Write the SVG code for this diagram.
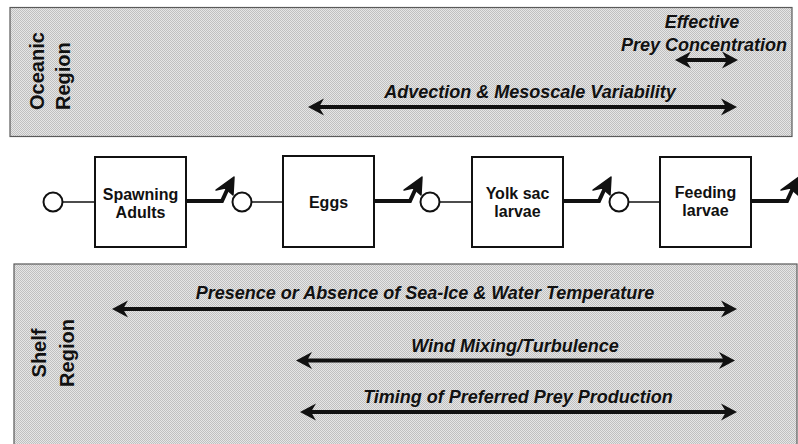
<svg xmlns="http://www.w3.org/2000/svg" width="798" height="444" viewBox="0 0 798 444">
<style>
.panel{fill:url(#dots);stroke:#5a5a5a;stroke-width:1.2}
.region{font-family:"Liberation Sans",Arial,sans-serif;font-weight:bold;font-size:20px;fill:#111}
.lbl{font-family:"Liberation Sans",Arial,sans-serif;font-weight:bold;font-style:italic;font-size:18px;fill:#111;text-anchor:middle}
.box{fill:#fff;stroke:#111;stroke-width:2}
.btxt{font-family:"Liberation Sans",Arial,sans-serif;font-weight:bold;font-size:16px;fill:#111;text-anchor:middle}
.circ{fill:#fff;stroke:#111;stroke-width:2}
.thin{stroke:#111;stroke-width:1.5;fill:none}
.thick{stroke:#111;stroke-width:4;fill:none}
.dbl{stroke:#111;stroke-width:4;fill:none;marker-start:url(#ah);marker-end:url(#ah)}
</style>
<defs>
<pattern id="dots" width="2" height="2" patternUnits="userSpaceOnUse">
<rect width="2" height="2" fill="#e6e6e6"/>
<rect width="1" height="1" fill="#c0c0c0"/>
<rect x="1" y="1" width="1" height="1" fill="#c0c0c0"/>
</pattern>
<marker id="ah" markerUnits="userSpaceOnUse" viewBox="-9 -9 19 18" refX="0" refY="0" markerWidth="19" markerHeight="18" orient="auto-start-reverse">
<path d="M8,0 L-8,-8.5 L-3,0 L-8,8.5 Z" fill="#111"/>
</marker>
<g id="sw">
<path class="thick" d="M0,0 H35 L41,-13"/>
<path d="M47,-24 L29,-11 L38,-13 L46,-6 Z" fill="#111" stroke="#111" stroke-width="1.5" stroke-linejoin="round"/>
</g>
</defs>

<g id="oceanic-panel">
<rect class="panel" x="10" y="7.5" width="782" height="129"/>
<text class="region" transform="translate(44,110) rotate(-90)">Oceanic</text>
<text class="region" transform="translate(69.5,110) rotate(-90)">Region</text>
</g>

<g id="shelf-panel">
<rect class="panel" x="14" y="264" width="783" height="185"/>
<text class="region" text-anchor="middle" transform="translate(46,353) rotate(-90)">Shelf</text>
<text class="region" text-anchor="middle" transform="translate(74,353) rotate(-90)">Region</text>
</g>

<g id="node-spawning">
<rect class="box" x="95" y="157" width="91" height="90"/>
<text class="btxt" x="140.5" y="200">Spawning</text>
<text class="btxt" x="140.5" y="218">Adults</text>
</g>
<g id="node-eggs">
<rect class="box" x="283" y="156" width="91" height="91"/>
<text class="btxt" x="328.5" y="208">Eggs</text>
</g>
<g id="node-yolk">
<rect class="box" x="472" y="157" width="91" height="90"/>
<text class="btxt" x="517.5" y="199">Yolk sac</text>
<text class="btxt" x="517.5" y="217">larvae</text>
</g>
<g id="node-feeding">
<rect class="box" x="660" y="157" width="91" height="90"/>
<text class="btxt" x="705.5" y="198">Feeding</text>
<text class="btxt" x="705.5" y="216">larvae</text>
</g>

<g id="connectors">
<line class="thin" x1="62.5" y1="202" x2="95" y2="202"/>
<line class="thin" x1="251.5" y1="202" x2="283" y2="202"/>
<line class="thin" x1="439.5" y1="202" x2="472" y2="202"/>
<line class="thin" x1="628.5" y1="202" x2="660" y2="202"/>
<circle class="circ" cx="53" cy="202" r="9.5"/>
<circle class="circ" cx="242" cy="202" r="9.5"/>
<circle class="circ" cx="430" cy="202" r="9.5"/>
<circle class="circ" cx="619" cy="202" r="9.5"/>
<use href="#sw" x="187" y="201"/>
<use href="#sw" x="375" y="201"/>
<use href="#sw" x="564" y="201"/>
<use href="#sw" x="752" y="201"/>

<line class="dbl" x1="683" y1="60" x2="730" y2="60"/>
<line class="dbl" x1="316" y1="107" x2="729" y2="107"/>
<line class="dbl" x1="120" y1="309" x2="729" y2="309"/>
<line class="dbl" x1="304" y1="360.5" x2="727" y2="360.5"/>
<line class="dbl" x1="308" y1="412" x2="729" y2="412"/>
</g>

<g id="labels">
<text class="lbl" x="702" y="28">Effective</text>
<text class="lbl" x="704" y="51">Prey Concentration</text>
<text class="lbl" x="530" y="98">Advection &amp; Mesoscale Variability</text>
<text class="lbl" x="425" y="299">Presence or Absence of Sea-Ice &amp; Water Temperature</text>
<text class="lbl" x="515" y="352">Wind Mixing/Turbulence</text>
<text class="lbl" x="518" y="403">Timing of Preferred Prey Production</text>
</g>
</svg>
